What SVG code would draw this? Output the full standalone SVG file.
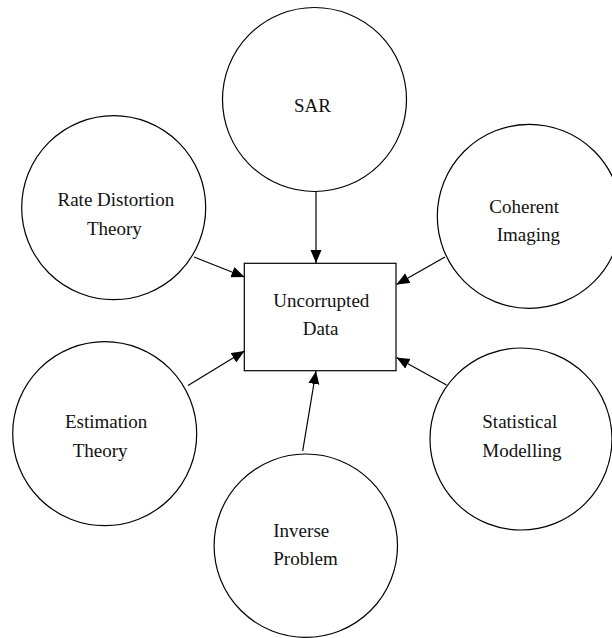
<svg xmlns="http://www.w3.org/2000/svg" width="612" height="638" viewBox="0 0 612 638">
<style>
.n{fill:#fff;stroke:#000;stroke-width:1.2}
text{font-family:'Liberation Serif','Times New Roman','DejaVu Serif',serif;font-size:19px;fill:#111}
.c{stroke:#000;stroke-width:1.2;fill:none;marker-end:url(#ah)}
</style>
<defs>
<marker id="ah" markerUnits="userSpaceOnUse" markerWidth="14" markerHeight="12" refX="13" refY="5.5" orient="auto">
<path d="M0,0 L13,5.5 L0,11 Z" fill="#000"/>
</marker>
</defs>
<rect width="612" height="638" fill="#fff"/>
<g id="connectors">
<line class="c" x1="316" y1="191" x2="316" y2="263"/>
<line class="c" x1="194" y1="257" x2="244.5" y2="277"/>
<line class="c" x1="445" y1="257" x2="396.5" y2="284.5"/>
<line class="c" x1="188" y1="385.5" x2="244.5" y2="351"/>
<line class="c" x1="446.5" y1="385" x2="396.5" y2="357.5"/>
<line class="c" x1="302.7" y1="451" x2="316" y2="371"/>
</g>
<g font-family="Liberation Serif, serif" font-size="19">
<g id="sar">
<circle class="n" cx="314.5" cy="99.5" r="92"/>
<text x="294" y="112">SAR</text>
</g>
<g id="rate-distortion">
<circle class="n" cx="113.7" cy="207.7" r="92"/>
<text x="57.5" y="206">Rate Distortion</text>
<text x="87" y="235">Theory</text>
</g>
<g id="coherent-imaging">
<circle class="n" cx="529.3" cy="216.3" r="92"/>
<text x="489.3" y="213">Coherent</text>
<text x="496.7" y="241">Imaging</text>
</g>
<g id="uncorrupted-data">
<rect class="n" x="244.3" y="263.3" width="151.7" height="107.4"/>
<text x="273.3" y="306.5">Uncorrupted</text>
<text x="302.7" y="335">Data</text>
</g>
<g id="estimation-theory">
<circle class="n" cx="104.7" cy="433.7" r="92"/>
<text x="65" y="428.3">Estimation</text>
<text x="72.7" y="457">Theory</text>
</g>
<g id="statistical-modelling">
<circle class="n" cx="521" cy="439" r="91"/>
<text x="482.3" y="428.3">Statistical</text>
<text x="482.3" y="457">Modelling</text>
</g>
<g id="inverse-problem">
<circle class="n" cx="305.8" cy="545.7" r="91.7"/>
<text x="273.3" y="536.7">Inverse</text>
<text x="273.3" y="565">Problem</text>
</g>
</g>
</svg>
